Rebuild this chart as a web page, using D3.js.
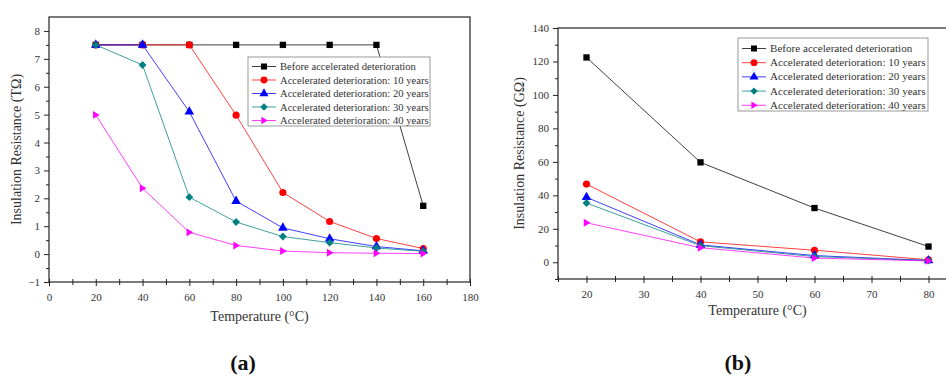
<!DOCTYPE html>
<html>
<head>
<meta charset="utf-8">
<script src="https://cdn.jsdelivr.net/npm/d3@7"></script>
<style>
  body { margin: 0; background: #fff; }
  svg text { font-family: "Liberation Serif", "Times New Roman", serif; }
</style>
</head>
<body>
<div id="chart"></div>
<script>
// series names / colours / symbols (shared by both panels)
const seriesNames = [
  'Before accelerated deterioration',
  'Accelerated deterioration: 10 years',
  'Accelerated deterioration: 20 years',
  'Accelerated deterioration: 30 years',
  'Accelerated deterioration: 40 years'
];
const seriesColors = ['#000000', '#ff0000', '#0000ff', '#008080', '#ff00ff'];
const seriesSymbols = ['square', 'circle', 'triangle', 'diamond', 'right'];

// panel (a): TΩ
const tempsA = [20, 40, 60, 80, 100, 120, 140, 160];
const before_A = [7.5, 7.5, 7.5, 7.5, 7.5, 7.5, 7.5, 1.73];
const y10_A = [7.5, 7.5, 7.5, 4.98, 2.21, 1.17, 0.56, 0.2];
const y20_A = [7.5, 7.5, 5.1, 1.9, 0.94, 0.55, 0.27, 0.12];
const y30_A = [7.5, 6.78, 2.04, 1.15, 0.63, 0.41, 0.22, 0.1];
const y40_A = [4.99, 2.36, 0.78, 0.31, 0.11, 0.05, 0.03, 0.02];
const xTicksA = [0, 20, 40, 60, 80, 100, 120, 140, 160, 180];
const yTicksA = [-1, 0, 1, 2, 3, 4, 5, 6, 7, 8];

// panel (b): GΩ
const tempsB = [20, 40, 60, 80];
const before_B = [122.4, 59.7, 32.4, 9.4];
const y10_B = [46.7, 12.2, 7.2, 1.5];
const y20_B = [38.8, 10.4, 4.0, 1.1];
const y30_B = [35.4, 9.9, 3.4, 1.0];
const y40_B = [23.6, 8.7, 2.5, 0.8];
const xTicksB = [20, 30, 40, 50, 60, 70, 80];
const yTicksB = [0, 20, 40, 60, 80, 100, 120, 140];

const W = 946, H = 376;
const SERIF = '"Liberation Serif", "Times New Roman", serif';
const svg = d3.select('#chart').append('svg')
  .attr('width', W)
  .attr('height', H);

function symbolPath(kind, size) {
  const r = Math.sqrt(size) * 0.62;
  if (kind === 'right') {
    // right-pointing triangle
    return `M${r},0L${-r * 0.7},${-r}L${-r * 0.7},${r}Z`;
  }
  if (kind === 'diamond') {
    // square turned 45deg, like Origin's diamond
    return `M0,${-r}L${r},0L0,${r}L${-r},0Z`;
  }
  const t = { square: d3.symbolSquare, circle: d3.symbolCircle,
              triangle: d3.symbolTriangle }[kind];
  return d3.symbol().type(t).size(size)();
}

function drawPanel(p) {
  const g = svg.append('g');
  const x = d3.scaleLinear().domain(p.xDomain).range(p.xRange);
  const y = d3.scaleLinear().domain(p.yDomain).range(p.yRange);

  // frame
  g.append('rect')
    .attr('x', p.xRange[0]).attr('y', p.yRange[1])
    .attr('width', p.xRange[1] - p.xRange[0])
    .attr('height', p.yRange[0] - p.yRange[1])
    .attr('fill', 'none').attr('stroke', '#222').attr('stroke-width', 1.2);

  // x axis (major + minor in separate groups)
  const xAxis = g.append('g').attr('transform', `translate(0,${p.yRange[0]})`)
    .call(d3.axisBottom(x).tickValues(p.xTicks).tickSize(4).tickPadding(7).tickFormat(d3.format('d')));
  const xMinor = g.append('g').attr('transform', `translate(0,${p.yRange[0]})`)
    .call(d3.axisBottom(x).tickValues(p.xMinor).tickSize(3).tickFormat(''));
  [xAxis, xMinor].forEach(a => {
    a.selectAll('.domain').remove();
    a.selectAll('.tick line').attr('y1', -3).attr('stroke', '#222');
  });
  xAxis.selectAll('text').attr('fill', '#333').style('font-size', '11px')
    .style('font-family', SERIF);

  // y axis
  const yAxis = g.append('g').attr('transform', `translate(${p.xRange[0]},0)`)
    .call(d3.axisLeft(y).tickValues(p.yTicks).tickSize(5).tickPadding(4).tickFormat(d3.format('d')));
  const yMinor = g.append('g').attr('transform', `translate(${p.xRange[0]},0)`)
    .call(d3.axisLeft(y).tickValues(p.yMinor).tickSize(3).tickFormat(''));
  [yAxis, yMinor].forEach(a => {
    a.selectAll('.domain').remove();
    a.selectAll('.tick line').attr('stroke', '#222');
  });
  yAxis.selectAll('text').attr('fill', '#333').style('font-size', '11px')
    .style('font-family', SERIF);

  // titles
  g.append('text')
    .attr('x', (p.xRange[0] + p.xRange[1]) / 2).attr('y', p.xTitleY)
    .attr('text-anchor', 'middle').attr('fill', '#333')
    .style('font-size', '14px').style('font-family', SERIF).text('Temperature (°C)');
  g.append('text')
    .attr('transform', `translate(${p.yTitleX},${(p.yRange[0] + p.yRange[1]) / 2}) rotate(-90)`)
    .attr('text-anchor', 'middle').attr('fill', '#333')
    .style('font-size', '14px').style('font-family', SERIF).text(p.yTitle);

  // lines + markers
  const line = d3.line().x(d => x(d[0])).y(d => y(d[1]));
  p.series.forEach((vals, i) => {
    const pts = p.temps.map((t, j) => [t, vals[j]]);
    g.append('path').datum(pts)
      .attr('d', line).attr('fill', 'none')
      .attr('stroke', seriesColors[i]).attr('stroke-width', 1).attr('opacity', 0.75);
  });
  p.series.forEach((vals, i) => {
    g.selectAll(null).data(p.temps.map((t, j) => [t, vals[j]]))
      .enter().append('path')
      .attr('transform', d => `translate(${x(d[0])},${y(d[1])})`)
      .attr('d', symbolPath(seriesSymbols[i], 40))
      .attr('fill', seriesColors[i]);
  });

  // legend
  const L = p.legend;
  const lg = g.append('g');
  lg.append('rect')
    .attr('x', L.x).attr('y', L.y).attr('width', L.w).attr('height', L.h)
    .attr('fill', '#fff').attr('stroke', '#999').attr('stroke-width', 1);
  seriesNames.forEach((name, i) => {
    const ry = L.row0 + i * L.dy;
    lg.append('line')
      .attr('x1', L.x + 4).attr('x2', L.x + 4 + L.lineW)
      .attr('y1', ry).attr('y2', ry)
      .attr('stroke', seriesColors[i]).attr('stroke-width', 1).attr('opacity', 0.75);
    lg.append('path')
      .attr('transform', `translate(${L.x + 4 + L.lineW / 2},${ry})`)
      .attr('d', symbolPath(seriesSymbols[i], 36))
      .attr('fill', seriesColors[i]);
    lg.append('text')
      .attr('x', L.x + 8 + L.lineW).attr('y', ry + 3.5)
      .attr('fill', '#333').style('font-size', L.font + 'px').style('font-family', SERIF)
      .text(name);
  });

  // panel label
  svg.append('text')
    .attr('x', p.labelX).attr('y', 370)
    .attr('text-anchor', 'middle')
    .style('font-size', '22px').style('font-weight', 'bold').style('font-family', SERIF)
    .attr('fill', '#111')
    .text(p.label);
}

drawPanel({
  temps: tempsA,
  series: [before_A, y10_A, y20_A, y30_A, y40_A],
  xDomain: [0, 180], xRange: [49, 470],
  yDomain: [-1, 8.5], yRange: [282, 17],
  xTicks: xTicksA, xMinor: d3.range(10, 180, 20),
  yTicks: yTicksA, yMinor: d3.range(-0.5, 8.5, 1),
  xTitleY: 321, yTitleX: 21,
  yTitle: 'Insulation Resistance (TΩ)',
  legend: { x: 248, y: 57, w: 182, h: 69, row0: 66.5, dy: 13.5, lineW: 24, font: 10.6 },
  label: '(a)', labelX: 243
});

drawPanel({
  temps: tempsB,
  series: [before_B, y10_B, y20_B, y30_B, y40_B],
  xDomain: [15, 85], xRange: [558, 957],
  yDomain: [-10, 140], yRange: [279, 28],
  xTicks: xTicksB, xMinor: d3.range(15, 86, 10),
  yTicks: yTicksB, yMinor: d3.range(-10, 140, 20),
  xTitleY: 315, yTitleX: 524,
  yTitle: 'Insulation Resistance (GΩ)',
  legend: { x: 738, y: 38, w: 190, h: 73, row0: 48.5, dy: 14.2, lineW: 24, font: 11.1 },
  label: '(b)', labelX: 738
});
</script>
</body>
</html>
